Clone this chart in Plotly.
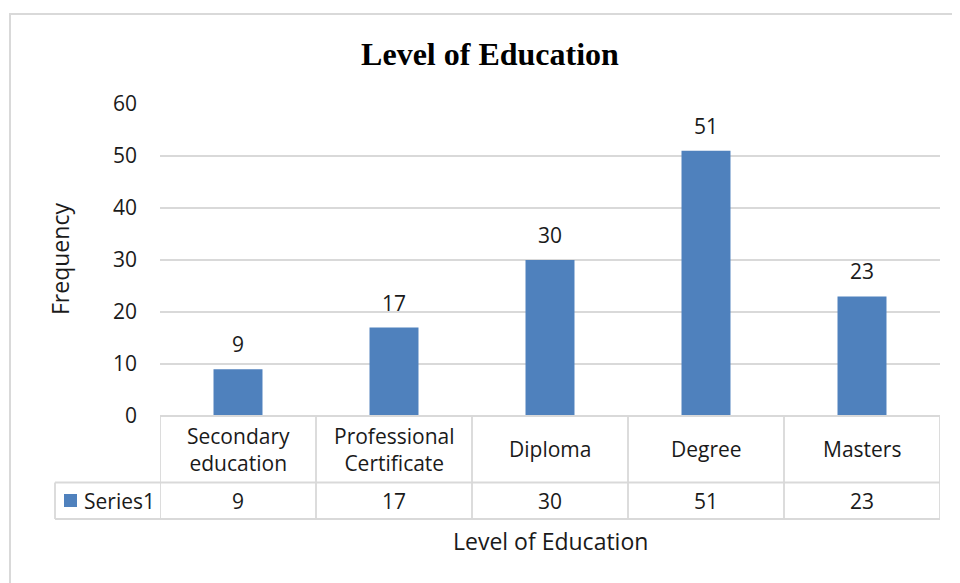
import plotly.graph_objects as go

categories = ["Secondary<br>education", "Professional<br>Certificate", "Diploma", "Degree", "Masters"]
values = [9, 17, 30, 51, 23]
series_name = "Series1"
y_ticks = [0, 10, 20, 30, 40, 50, 60]
title_text = "Level of Education"
x_title = "Level of Education"
y_title = "Frequency"

BAR = "#4F81BD"
GRID = "#d9d9d9"
TXT = "#1a1a1a"
FONT = "Open Sans"
FS = 21

# the page body has an 8px margin: the figure's origin sits at (8, 8) on screen
OFF = 8
W, H = 960 - OFF, 583 - OFF
# plot area on screen: x 160..940, y 104..416
L, R, T, B = 160 - OFF, 960 - 940, 104 - OFF, 583 - 416
PW, PH = W - L - R, H - T - B

def xp(sx):
    return (sx - OFF - L) / PW

def yp(sy):
    return (H - B - (sy - OFF)) / PH

n = len(categories)
idx = list(range(n))

fig = go.Figure()
fig.add_trace(go.Bar(x=idx, y=values, marker=dict(color=BAR, line=dict(width=0)),
                     name=series_name, hoverinfo="x+y"))

shapes = []
line = dict(color=GRID, width=1.8)
# outer chart border
shapes.append(dict(type="rect", xref="paper", yref="paper", x0=xp(10), x1=1.2,
                   y0=yp(14), y1=-0.8, line=dict(color=GRID, width=2), layer="below"))
# table horizontal lines
shapes.append(dict(type="line", xref="paper", yref="paper", x0=0, x1=1, y0=0, y1=0, line=line))
for sy in (482.5, 519):
    shapes.append(dict(type="line", xref="paper", yref="paper", x0=xp(55), x1=1,
                       y0=yp(sy), y1=yp(sy), line=line))
# left legend-cell border
shapes.append(dict(type="line", xref="paper", yref="paper", x0=xp(55), x1=xp(55),
                   y0=yp(482.5), y1=yp(519), line=line))
# vertical table lines at category boundaries
for i in range(n + 1):
    shapes.append(dict(type="line", xref="x", yref="paper", x0=i - 0.5, x1=i - 0.5,
                       y0=0, y1=yp(519), line=line))
# legend key
shapes.append(dict(type="rect", xref="paper", yref="paper", x0=xp(64), x1=xp(77),
                   y0=yp(494), y1=yp(507), fillcolor=BAR, line=dict(width=0)))

annotations = []
for i, (c, v) in enumerate(zip(categories, values)):
    annotations.append(dict(x=i, y=v, xref="x", yref="y", text=str(v), showarrow=False,
                            yshift=25, font=dict(family=FONT, size=FS, color=TXT)))
    annotations.append(dict(x=i, y=yp(449), xref="x", yref="paper", text=c, showarrow=False,
                            font=dict(family=FONT, size=FS, color=TXT), yanchor="middle"))
    annotations.append(dict(x=i, y=yp(501), xref="x", yref="paper", text=str(v), showarrow=False,
                            font=dict(family=FONT, size=FS, color=TXT), yanchor="middle"))
annotations.append(dict(x=xp(82), y=yp(501), xref="paper", yref="paper", text=series_name,
                        showarrow=False, xanchor="left", yanchor="middle",
                        font=dict(family=FONT, size=FS, color=TXT)))
annotations.append(dict(x=0.5, y=yp(541), xref="paper", yref="paper", text=x_title,
                        showarrow=False, yanchor="middle",
                        font=dict(family=FONT, size=23, color=TXT)))
annotations.append(dict(x=xp(60), y=yp(259), xref="paper", yref="paper", text=y_title,
                        showarrow=False, textangle=-90, xanchor="center", yanchor="middle",
                        font=dict(family=FONT, size=23, color=TXT)))

fig.update_layout(
    width=W, height=H,
    margin=dict(l=L, r=R, t=T, b=B),
    paper_bgcolor="white", plot_bgcolor="white",
    showlegend=False,
    bargap=0.686,
    title=dict(text="<b>" + title_text + "</b>", x=(490 - OFF) / W, xanchor="center",
               y=1 - (54 - OFF) / H, yanchor="middle",
               font=dict(family="Liberation Serif", size=32, color="black")),
    shapes=shapes,
    annotations=annotations,
)
fig.update_xaxes(range=[-0.5, n - 0.5], showticklabels=False, showgrid=False,
                 zeroline=False, showline=False, ticks="", fixedrange=True)
fig.update_yaxes(range=[0, 60], tickvals=y_ticks, showgrid=True, gridcolor=GRID, gridwidth=1.5,
                 zeroline=False, showline=False, ticks="", ticklabelstandoff=22,
                 tickfont=dict(family=FONT, size=FS, color=TXT), fixedrange=True)

fig.write_html("out.html")
